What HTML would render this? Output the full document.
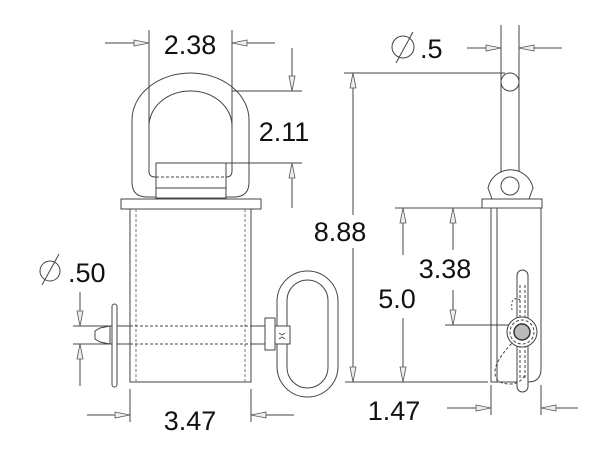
<!DOCTYPE html>
<html><head><meta charset="utf-8"><style>
html,body{margin:0;padding:0;background:#fff;}
svg{display:block;}
text{font-family:"Liberation Sans",Arial,sans-serif;font-size:27px;fill:#111;}
</style></head><body>
<svg width="600" height="462" viewBox="0 0 600 462" xmlns="http://www.w3.org/2000/svg">
<defs>
<marker id="a" markerWidth="18" markerHeight="10" refX="16" refY="5" orient="auto" markerUnits="userSpaceOnUse">
<path d="M1,2 L16,5 L1,8 Z" fill="#eee" stroke="#555" stroke-width="0.8"/>
</marker>
</defs>
<g fill="none" stroke="#444" stroke-width="1">
<!-- ===== LEFT VIEW ===== -->
<line x1="149" y1="30" x2="149" y2="160"/>
<line x1="232" y1="30" x2="232" y2="160"/>
<line x1="105" y1="43" x2="149" y2="43" marker-end="url(#a)"/>
<line x1="275" y1="43" x2="232" y2="43" marker-end="url(#a)"/>
<path d="M132,182 L132,120 A58.5,47 0 0 1 249,120 L249,182 Q249,197 234,197 L147,197 Q132,197 132,182 Z"/>
<path d="M149,171 L149,126 A41.5,35 0 0 1 232,126 L232,171 Q232,177 226,177 L155,177 Q149,177 149,171 Z"/>
<rect x="156" y="163" width="70" height="35" fill="#fff"/>
<line x1="156" y1="177" x2="226" y2="177" stroke-dasharray="3,2"/>
<line x1="156" y1="188" x2="226" y2="188"/>
<line x1="232" y1="91" x2="302" y2="91"/>
<line x1="226" y1="163" x2="302" y2="163"/>
<line x1="292" y1="48" x2="292" y2="91" marker-end="url(#a)"/>
<line x1="292" y1="208" x2="292" y2="163" marker-end="url(#a)"/>
<rect x="121" y="199" width="140" height="10" fill="#fff"/>
<rect x="130" y="209" width="121" height="173" fill="#fff"/>
<line x1="136" y1="209" x2="136" y2="382" stroke-dasharray="3,2" stroke="#777"/>
<line x1="245" y1="209" x2="245" y2="382" stroke-dasharray="3,2" stroke="#777"/>
<path d="M110,326 L100,328 L95,331 L95,339 L100,342 L110,344"/>
<line x1="110" y1="326" x2="130" y2="326"/><line x1="110" y1="344" x2="130" y2="344"/>
<line x1="251" y1="326" x2="265" y2="326"/><line x1="251" y1="344" x2="265" y2="344"/>
<line x1="130" y1="326" x2="251" y2="326" stroke-dasharray="3,2"/>
<line x1="130" y1="344" x2="251" y2="344" stroke-dasharray="3,2"/>
<line x1="110" y1="326" x2="110" y2="344"/>
<rect x="112" y="304" width="5" height="83" rx="2.5" fill="#fff"/>
<rect x="265" y="318" width="10" height="32" fill="#fff"/>
<rect x="277" y="271" width="61" height="126" rx="30.5" fill="none"/>
<rect x="287" y="280" width="41" height="108" rx="20.5" fill="none"/>
<rect x="275" y="326" width="15" height="18" fill="#fff"/>
<path d="M279,333 l3,2 l3,-2 M279,339 l3,-2 l3,2" stroke-width="0.8"/>
<line x1="73" y1="326" x2="112" y2="326"/>
<line x1="73" y1="344" x2="112" y2="344"/>
<line x1="80" y1="292" x2="80" y2="326" marker-end="url(#a)"/>
<line x1="80" y1="386" x2="80" y2="344" marker-end="url(#a)"/>
<circle cx="50" cy="271" r="10"/><line x1="42" y1="285" x2="59" y2="254"/>
<line x1="130" y1="389" x2="130" y2="422"/>
<line x1="251" y1="389" x2="251" y2="422"/>
<line x1="87" y1="415" x2="130" y2="415" marker-end="url(#a)"/>
<line x1="294" y1="415" x2="251" y2="415" marker-end="url(#a)"/>

<!-- ===== RIGHT VIEW ===== -->
<line x1="501" y1="25" x2="501" y2="175"/>
<line x1="519" y1="25" x2="519" y2="175"/>
<line x1="467" y1="48" x2="501" y2="48" marker-end="url(#a)"/>
<line x1="562" y1="48" x2="519" y2="48" marker-end="url(#a)"/>
<circle cx="403" cy="47" r="11"/><line x1="396" y1="63" x2="413" y2="32"/>
<circle cx="510" cy="82" r="9" fill="#fff"/>
<line x1="344" y1="73" x2="505" y2="73"/>
<line x1="353" y1="215" x2="353" y2="73" marker-end="url(#a)"/>
<line x1="353" y1="248" x2="353" y2="382" marker-end="url(#a)"/>
<line x1="345" y1="382" x2="488" y2="382"/>
<path d="M492,199 L488,188 A23,23 0 0 1 533,188 L529,199" fill="#fff"/>
<circle cx="510" cy="186" r="9" fill="#fff"/>
<rect x="482" y="199" width="60" height="9" fill="#fff"/>
<path d="M491,208 L491,382 L528,382 Q541,382 541,369 L541,208"/>
<line x1="497" y1="208" x2="497" y2="382"/>
<line x1="395" y1="208" x2="482" y2="208"/>
<line x1="403" y1="255" x2="403" y2="208" marker-end="url(#a)"/>
<line x1="403" y1="318" x2="403" y2="382" marker-end="url(#a)"/>
<line x1="453" y1="250" x2="453" y2="208" marker-end="url(#a)"/>
<line x1="453" y1="290" x2="453" y2="325" marker-end="url(#a)"/>
<line x1="445" y1="325" x2="510" y2="325"/>
<rect x="517" y="270" width="11" height="122" rx="5.5" fill="#fff"/>
<line x1="520" y1="285" x2="520" y2="380" stroke-dasharray="3,2"/>
<line x1="525" y1="285" x2="525" y2="380" stroke-dasharray="3,2"/>
<path d="M515,340 Q495,360 495,372 Q495,384 510,384 Q520,384 525,375" stroke-dasharray="3,2"/>
<path d="M520,300 Q510,295 512,310" stroke-dasharray="2,2"/>
<circle cx="522" cy="332" r="15" fill="#fff"/>
<circle cx="522" cy="332" r="12" stroke-dasharray="3,2"/>
<circle cx="522" cy="332" r="8" fill="#bbb" stroke="#333" stroke-width="1.5"/>
<line x1="491" y1="385" x2="491" y2="415"/>
<line x1="541" y1="385" x2="541" y2="415"/>
<line x1="447" y1="408" x2="491" y2="408" marker-end="url(#a)"/>
<line x1="578" y1="408" x2="541" y2="408" marker-end="url(#a)"/>
</g>
<text x="190" y="54" text-anchor="middle">2.38</text>
<text x="284" y="141" text-anchor="middle">2.11</text>
<text x="68" y="282">.50</text>
<text x="190" y="430" text-anchor="middle">3.47</text>
<text x="420" y="58">.5</text>
<text x="340" y="241" text-anchor="middle">8.88</text>
<text x="445" y="278" text-anchor="middle">3.38</text>
<text x="397" y="308" text-anchor="middle">5.0</text>
<text x="394" y="420" text-anchor="middle">1.47</text>
</svg>
</body></html>
